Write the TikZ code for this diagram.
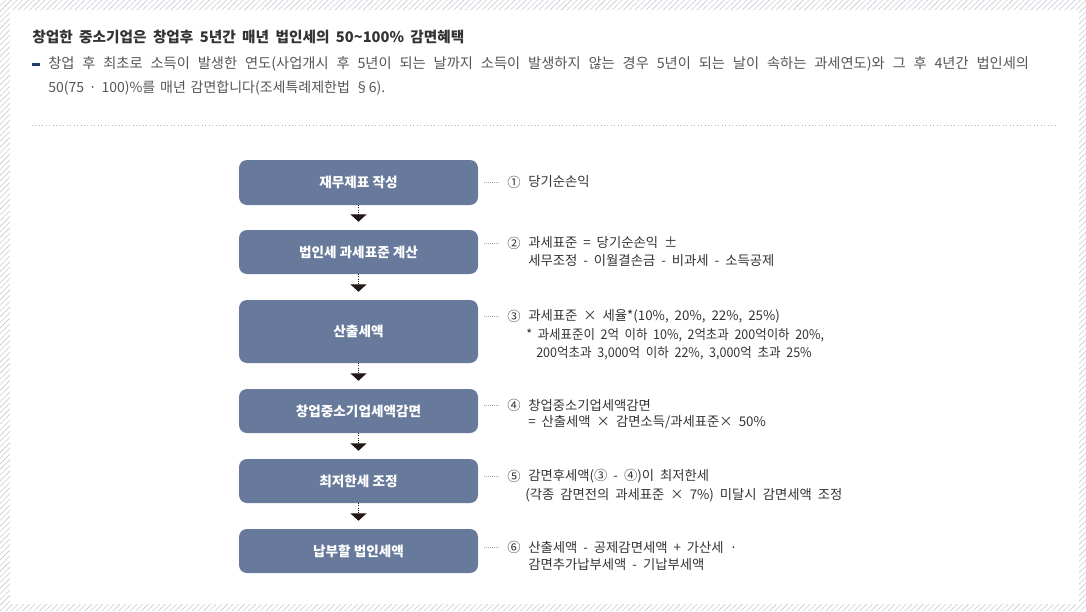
\documentclass[tikz,border=0pt]{standalone}
\usepackage{fontspec}
\setmainfont{Noto Sans CJK KR}
\usetikzlibrary{patterns.meta,arrows.meta}
\definecolor{boxc}{HTML}{687A9B}
\definecolor{txt}{HTML}{333333}
\definecolor{bodyc}{HTML}{555555}
\definecolor{navy}{HTML}{1F3B70}
\definecolor{hatchc}{HTML}{C9CAD4}
\definecolor{arrc}{HTML}{231815}
\newcommand\spRt{\spaceskip 4.5pt\relax}
\newcommand\spHa{\spaceskip 5.9pt\relax}
\newcommand\spHb{\spaceskip 3.6pt\relax}
\newcommand\spTt{\spaceskip 4.8pt\relax}
\begin{document}
\begin{tikzpicture}[x=0.75pt,y=-0.75pt,
  stepbox/.style={fill=boxc, rounded corners=6pt, minimum width=179.25pt, text=white,
    font=\fontsize{10.2pt}{12pt}\selectfont\bfseries, inner sep=0pt},
  flowarrow/.style={draw=arrc, densely dotted, line width=0.6pt,
    -{Triangle[width=12pt,length=5.5pt,fill=arrc,sharp]}, shorten >=6pt},
  leader/.style={draw=gray!70, dash pattern=on 0.6pt off 0.9pt, line width=0.5pt},
  numc/.style={inner sep=0pt, text=txt, font=\fontsize{10pt}{12pt}\selectfont},
  rtext/.style={anchor=west, inner sep=0pt, text=txt, font=\fontsize{10pt}{12pt}\selectfont\spRt},
  htext/.style={anchor=west, inner sep=0pt, text=bodyc, font=\fontsize{10.7pt}{12pt}\selectfont\spHa}]
\useasboundingbox (0,0) rectangle (1086,611);
% hatched frame
\fill[pattern={Lines[angle=45,distance=3pt,line width=0.45pt]}, pattern color=hatchc, even odd rule]
  (0,0) rectangle (1086,611) (10,10) rectangle (1079,604);
% header
\node[anchor=west, inner sep=0pt, text=txt, font=\fontsize{11pt}{12pt}\selectfont\bfseries\spTt] (title) at (32,37) {창업한 중소기업은 창업후 5년간 매년 법인세의 50\textasciitilde100\% 감면혜택};
\fill[navy] (32,62.5) rectangle (40,65.5);
\node[htext] (h1) at (48,64) {창업 후 최초로 소득이 발생한 연도(사업개시 후 5년이 되는 날까지 소득이 발생하지 않는 경우 5년이 되는 날이 속하는 과세연도)와 그 후 4년간 법인세의};
\node[htext, font=\fontsize{10.5pt}{12pt}\selectfont\spHb] (h2) at (48,88) {50(75 · 100)\%를 매년 감면합니다(조세특례제한법 §6).};
\coordinate (sepL) at (32,125);
\coordinate (sepR) at (1058,125);
\draw[gray!60, dotted, line width=0.6pt] (sepL) -- (sepR);
% boxes
\node[stepbox, minimum height=33.75pt] (b1) at (358.5,182.5) {재무제표 작성};
\node[stepbox, minimum height=33pt] (b2) at (358.5,252) {법인세 과세표준 계산};
\node[stepbox, minimum height=47.25pt] (b3) at (358.5,331.5) {산출세액};
\node[stepbox, minimum height=33pt] (b4) at (358.5,411) {창업중소기업세액감면};
\node[stepbox, minimum height=33pt] (b5) at (358.5,481) {최저한세 조정};
\node[stepbox, minimum height=33pt] (b6) at (358.5,551) {납부할 법인세액};
\foreach \a/\b in {b1/b2,b2/b3,b3/b4,b4/b5,b5/b6}
  \draw[flowarrow] (\a.south) -- (\b.north);
% numbers
\node[numc] (n1) at (514,182) {①};
\node[numc] (n2) at (514,243) {②};
\node[numc] (n3) at (514,316) {③};
\node[numc] (n4) at (514,405) {④};
\node[numc] (n5) at (514,476) {⑤};
\node[numc] (n6) at (514,547) {⑥};
\foreach \i in {1,...,6}
  \draw[leader] ([xshift=4.5pt]b\i.east |- n\i) -- ([xshift=-6pt]n\i.west);
% texts
\node[rtext] (t1a) at (528,182) {당기순손익};
\node[rtext] (t2a) at (528,243) {과세표준 = 당기순손익 ±};
\node[rtext] (t2b) at (528,261) {세무조정 - 이월결손금 - 비과세 - 소득공제};
\node[rtext] (t3a) at (528,316) {과세표준 × 세율*(10\%, 20\%, 22\%, 25\%)};
\node[rtext] (t3b) at (526,335) {\scalebox{0.935}[1]{* 과세표준이 2억 이하 10\%, 2억초과 200억이하 20\%,}};
\node[rtext] (t3c) at (536,353) {\scalebox{0.94}[1]{200억초과 3,000억 이하 22\%, 3,000억 초과 25\%}};
\node[rtext] (t4a) at (528,405) {창업중소기업세액감면};
\node[rtext] (t4b) at (528,422) {= 산출세액 × 감면소득/과세표준× 50\%};
\node[rtext] (t5a) at (528,476) {감면후세액(③ - ④)이 최저한세};
\node[rtext] (t5b) at (525,495) {(각종 감면전의 과세표준 × 7\%) 미달시 감면세액 조정};
\node[rtext] (t6a) at (528,547) {산출세액 - 공제감면세액 + 가산세 ·};
\node[rtext] (t6b) at (528,565) {감면추가납부세액 - 기납부세액};
\end{tikzpicture}
\end{document}
